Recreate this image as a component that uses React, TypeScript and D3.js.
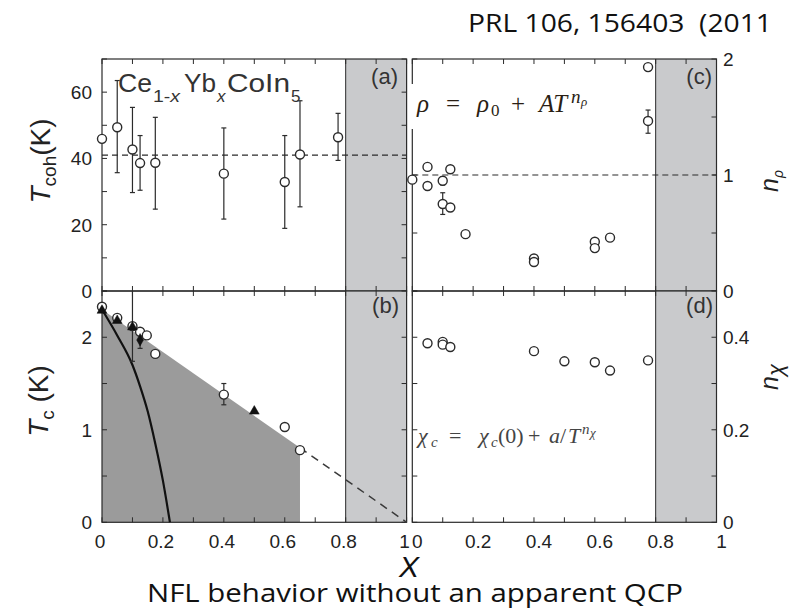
import React from 'react';
import * as d3 from 'd3';

// ---------- data ----------
// panel (a): coherence temperature
const tcohX = [0, 0.05, 0.1, 0.125, 0.175, 0.4, 0.6, 0.65, 0.775];
const tcohY = [45.9, 49.4, 42.7, 38.6, 38.7, 35.4, 32.9, 41.2, 46.4];
const tcohLo = [45.9, 35.7, 29.7, 30.4, 24.7, 21.7, 18.9, 25.4, 39.4];
const tcohHi = [45.9, 63.5, 55.4, 46.9, 52.4, 49.2, 46.9, 57.4, 53.6];
const tcohRef = 41;

// panel (b): Tc
const tcCircX = [0, 0.05, 0.1, 0.125, 0.147, 0.175, 0.4, 0.6, 0.65];
const tcCircY = [2.33, 2.21, 2.12, 2.06, 2.02, 1.82, 1.38, 1.03, 0.78];
const tcCircLo = [2.33, 2.21, 2.12, 2.06, 2.02, 1.82, 1.27, 1.03, 0.78];
const tcCircHi = [2.33, 2.21, 2.12, 2.06, 2.02, 1.82, 1.5, 1.03, 0.78];
const tcTriX = [0, 0.05, 0.1, 0.5];
const tcTriY = [2.29, 2.18, 2.11, 1.2];
const tcTriLo = [2.29, 2.18, 1.74, 1.2];
const tcTriHi = [2.29, 2.18, 2.5, 1.2];
const tcDiaX = [0.125];
const tcDiaY = [1.97];
const tcDiaLo = [1.88];
const tcDiaHi = [2.04];
const boundaryX = [0, 0.65, 1];
const boundaryY = [2.3, 0.805, 0];
const curveX = [0, 0.05, 0.1, 0.125, 0.15, 0.175, 0.2, 0.223];
const curveY = [2.3, 2.02, 1.7, 1.47, 1.2, 0.85, 0.45, 0];

// panel (c): resistivity exponent
const nRhoX = [0, 0.05, 0.05, 0.1, 0.1, 0.125, 0.125, 0.175, 0.4, 0.4, 0.6, 0.6, 0.65, 0.775, 0.775];
const nRhoY = [0.96, 1.07, 0.905, 0.95, 0.75, 1.05, 0.72, 0.49, 0.28, 0.25, 0.425, 0.37, 0.46, 1.93, 1.466];
const nRhoLo = [0.96, 1.07, 0.905, 0.915, 0.66, 1.02, 0.72, 0.49, 0.28, 0.25, 0.425, 0.37, 0.43, 1.93, 1.36];
const nRhoHi = [0.96, 1.07, 0.905, 0.985, 0.847, 1.08, 0.72, 0.49, 0.28, 0.25, 0.425, 0.37, 0.49, 1.93, 1.56];
const nRhoRef = 1;

// panel (d): susceptibility exponent
const nChiX = [0.05, 0.1, 0.1, 0.125, 0.4, 0.5, 0.6, 0.65, 0.775];
const nChiY = [0.387, 0.39, 0.384, 0.379, 0.37, 0.348, 0.346, 0.328, 0.35];

// shaded region & ticks
const shadeFrom = 0.8;
const xTickLabels = ['0', '0.2', '0.4', '0.6', '0.8', '1'];
const xTickVals = [0, 0.2, 0.4, 0.6, 0.8, 1];
const aTickVals = [0, 20, 40, 60];
const bTickVals = [0, 1, 2];
const cTickVals = [0, 1, 2];
const dTickVals = [0, 0.2, 0.4];
const dTickLabels = ['0', '0.2', '0.4'];

// ---------- layout ----------
const xL = d3.scaleLinear().domain([0, 1]).range([102, 406.6]);
const xR = d3.scaleLinear().domain([0, 1]).range([412.3, 716.5]);
const yA = d3.scaleLinear().domain([0, 70]).range([291, 59]);
const yB = d3.scaleLinear().domain([0, 2.5]).range([522.3, 291]);
const yC = d3.scaleLinear().domain([0, 2]).range([291, 59]);
const yD = d3.scaleLinear().domain([0, 0.5]).range([522.3, 291]);

const SANS = '"Liberation Sans", Arial, Helvetica, sans-serif';
const SERIF = '"Liberation Serif", "DejaVu Serif", serif';
const CAL = '"Open Sans", "Noto Sans", sans-serif';
const INK = '#2b2b2b';
const SHADE = '#c9cacc';
const DARK = '#9b9b9b';
const TICK = 5;

type Sx = d3.ScaleLinear<number, number>;

function Frame({ x, y, nY }: { x: Sx; y: Sx; nY: number }) {
  const [x0, x1] = x.range();
  const [yb, yt] = y.range();
  const xt = x.ticks(10);
  const yt2 = y.ticks(nY);
  return (
    <g>
      <rect x={x(shadeFrom)} y={yt} width={x1 - x(shadeFrom)} height={yb - yt} fill={SHADE} />
      <line x1={x(shadeFrom)} x2={x(shadeFrom)} y1={yt} y2={yb} stroke={INK} strokeWidth={1} />
      {xt.map((t, i) => (
        <g key={'x' + i}>
          <line x1={x(t)} x2={x(t)} y1={yt} y2={yt + TICK} stroke={INK} strokeWidth={1} />
          <line x1={x(t)} x2={x(t)} y1={yb} y2={yb - TICK} stroke={INK} strokeWidth={1} />
        </g>
      ))}
      {yt2.map((t, i) => (
        <g key={'y' + i}>
          <line x1={x0} x2={x0 + TICK} y1={y(t)} y2={y(t)} stroke={INK} strokeWidth={1} />
          <line x1={x1} x2={x1 - TICK} y1={y(t)} y2={y(t)} stroke={INK} strokeWidth={1} />
        </g>
      ))}
      <rect x={x0} y={yt} width={x1 - x0} height={yb - yt} fill="none" stroke={INK} strokeWidth={1.2} />
    </g>
  );
}

function Circles({ x, y, xs, ys, lo, hi }: { x: Sx; y: Sx; xs: number[]; ys: number[]; lo?: number[]; hi?: number[] }) {
  return (
    <g>
      {xs.map((v, i) => (
        <g key={i}>
          {lo && hi && hi[i] - lo[i] > 0 && (
            <g stroke={INK} strokeWidth={1.2}>
              <line x1={x(v)} x2={x(v)} y1={y(lo[i])} y2={y(hi[i])} />
              <line x1={x(v) - 2.5} x2={x(v) + 2.5} y1={y(lo[i])} y2={y(lo[i])} />
              <line x1={x(v) - 2.5} x2={x(v) + 2.5} y1={y(hi[i])} y2={y(hi[i])} />
            </g>
          )}
          <circle cx={x(v)} cy={y(ys[i])} r={4.5} fill="white" stroke={INK} strokeWidth={1.4} />
        </g>
      ))}
    </g>
  );
}

function Filled({ x, y, xs, ys, lo, hi, type, size }: { x: Sx; y: Sx; xs: number[]; ys: number[]; lo: number[]; hi: number[]; type: d3.SymbolType; size: number }) {
  const sym = d3.symbol().type(type).size(size)();
  return (
    <g>
      {xs.map((v, i) => (
        <g key={i}>
          {hi[i] - lo[i] > 0 && (
            <g stroke={INK} strokeWidth={1.2}>
              <line x1={x(v)} x2={x(v)} y1={y(lo[i])} y2={y(hi[i])} />
              <line x1={x(v) - 2.5} x2={x(v) + 2.5} y1={y(lo[i])} y2={y(lo[i])} />
            </g>
          )}
          <path d={sym || ''} transform={`translate(${x(v)},${y(ys[i])})`} fill="#111" stroke="#111" strokeWidth={0.5} />
        </g>
      ))}
    </g>
  );
}

export default function App() {
  const boundary = boundaryX.map((v, i) => [v, boundaryY[i]] as [number, number]);
  const areaPts: [number, number][] = [[0, 0], boundary[0], boundary[1], [boundary[1][0], 0]];
  const polyLine = d3.line<[number, number]>().x((d) => xL(d[0])).y((d) => yB(d[1]));
  const curvePts = curveX.map((v, i) => [v, curveY[i]] as [number, number]);
  const curveLine = d3
    .line<[number, number]>()
    .x((d) => xL(d[0]))
    .y((d) => yB(d[1]))
    .curve(d3.curveMonotoneX);

  const mathIt = { fontFamily: SERIF, fontStyle: 'italic' as const };

  return (
    <svg width={805} height={613} style={{ position: 'absolute', left: 0, top: 0, background: 'white' }}>
      {/* title */}
      <text x={468} y={32} fontFamily={CAL} fontSize={26} fill="#111" textLength={304} lengthAdjust="spacingAndGlyphs" style={{ whiteSpace: 'pre' }}>
        PRL 106, 156403  (2011
      </text>

      {/* ---------- panel (a) ---------- */}
      <Frame x={xL} y={yA} nY={7} />
      <line x1={xL(0)} x2={xL(1)} y1={yA(tcohRef)} y2={yA(tcohRef)} stroke={INK} strokeWidth={1.2} strokeDasharray="6,4" />
      <Circles x={xL} y={yA} xs={tcohX} ys={tcohY} lo={tcohLo} hi={tcohHi} />
      <g fontFamily={SANS} fill="#333">
        <text x={118} y={92} fontSize={25} textLength={34} lengthAdjust="spacingAndGlyphs">Ce</text>
        <text x={153} y={102} fontSize={17} textLength={27} lengthAdjust="spacingAndGlyphs">
          1-<tspan fontStyle="italic">x</tspan>
        </text>
        <text x={184} y={92} fontSize={25} textLength={32} lengthAdjust="spacingAndGlyphs">Yb</text>
        <text x={217} y={102} fontSize={17} fontStyle="italic">x</text>
        <text x={227} y={92} fontSize={25} textLength={63} lengthAdjust="spacingAndGlyphs">CoIn</text>
        <text x={291} y={102} fontSize={17}>5</text>
      </g>
      <text x={398} y={84} textAnchor="end" fontFamily={SANS} fontSize={22} fill="#333">(a)</text>

      {/* ---------- panel (b) ---------- */}
      <g>
        <rect x={xL(shadeFrom)} y={291} width={xL(1) - xL(shadeFrom)} height={yB(0) - 291} fill={SHADE} />
        <path d={polyLine(areaPts) || ''} fill={DARK} />
      </g>
      <Frame x={xL} y={yB} nY={5} />
      <path d={polyLine([boundary[1], boundary[2]]) || ''} fill="none" stroke="#3a3a3a" strokeWidth={1.5} strokeDasharray="8,6" />
      <path d={curveLine(curvePts) || ''} fill="none" stroke="#111" strokeWidth={2.2} />
      <Circles x={xL} y={yB} xs={tcCircX} ys={tcCircY} lo={tcCircLo} hi={tcCircHi} />
      <Filled x={xL} y={yB} xs={tcTriX} ys={tcTriY} lo={tcTriLo} hi={tcTriHi} type={d3.symbolTriangle} size={42} />
      <Filled x={xL} y={yB} xs={tcDiaX} ys={tcDiaY} lo={tcDiaLo} hi={tcDiaHi} type={d3.symbolDiamond} size={40} />
      <text x={399} y={313} textAnchor="end" fontFamily={SANS} fontSize={22} fill="#333">(b)</text>

      {/* ---------- panel (c) ---------- */}
      <Frame x={xR} y={yC} nY={4} />
      <rect x={409} y={84} width={200} height={45} fill="white" />
      <line x1={xR(0)} x2={xR(1)} y1={yC(nRhoRef)} y2={yC(nRhoRef)} stroke={INK} strokeWidth={1.2} strokeDasharray="6,4" />
      <Circles x={xR} y={yC} xs={nRhoX} ys={nRhoY} lo={nRhoLo} hi={nRhoHi} />
      <g fill="#2a1e14" fontFamily={SERIF} fontSize={25}>
        <text x={417} y={112} {...mathIt}>ρ</text>
        <text x={446} y={112}>=</text>
        <text x={477} y={112} {...mathIt}>ρ</text>
        <text x={491} y={116} fontSize={17}>0</text>
        <text x={511} y={112}>+</text>
        <text x={539} y={112} {...mathIt}>AT</text>
        <text x={571} y={103} fontSize={19} {...mathIt}>n</text>
        <text x={581} y={106} fontSize={13} {...mathIt}>ρ</text>
      </g>
      <text x={712} y={84} textAnchor="end" fontFamily={SANS} fontSize={22} fill="#333">(c)</text>

      {/* ---------- panel (d) ---------- */}
      <Frame x={xR} y={yD} nY={5} />
      <Circles x={xR} y={yD} xs={nChiX} ys={nChiY} />
      <g fill="#444" fontFamily={SERIF} fontSize={22}>
        <text x={418} y={443} {...mathIt}>χ</text>
        <text x={431} y={447} fontSize={15} {...mathIt}>c</text>
        <text x={449} y={443}>=</text>
        <text x={479} y={443} {...mathIt}>χ</text>
        <text x={491} y={447} fontSize={15} {...mathIt}>c</text>
        <text x={498} y={443}>(0)</text>
        <text x={528} y={443}>+</text>
        <text x={549} y={443} {...mathIt}>a</text>
        <text x={560} y={443}>/</text>
        <text x={568} y={443} {...mathIt}>T</text>
        <text x={582} y={434} fontSize={15} {...mathIt}>n</text>
        <text x={590} y={437} fontSize={13} {...mathIt}>χ</text>
      </g>
      <text x={713} y={313} textAnchor="end" fontFamily={SANS} fontSize={22} fill="#333">(d)</text>

      {/* ---------- tick labels ---------- */}
      <g fontFamily={SANS} fontSize={19} fill="#222">
        {aTickVals.map((t) => (
          <text key={'a' + t} x={92} y={yA(t)} dy="0.36em" textAnchor="end">{t}</text>
        ))}
        {bTickVals.map((t) => (
          <text key={'b' + t} x={92} y={yB(t)} dy="0.36em" textAnchor="end">{t}</text>
        ))}
        {cTickVals.map((t) => (
          <text key={'c' + t} x={723} y={yC(t)} dy="0.36em">{t}</text>
        ))}
        {dTickVals.slice(1).map((t, i) => (
          <text key={'d' + t} x={723} y={yD(t)} dy="0.36em">{dTickLabels[i + 1]}</text>
        ))}
        <text x={723} y={yD(0)} dy="0.36em">0</text>
        {xTickVals.map((t, i) => (
          <text key={'xl' + t} x={xL(t) - 2} y={548} textAnchor="middle">{xTickLabels[i]}</text>
        ))}
        {xTickVals.map((t, i) => (
          <text key={'xr' + t} x={xR(t) + 5} y={548} textAnchor="middle">{xTickLabels[i]}</text>
        ))}
      </g>

      {/* ---------- axis titles ---------- */}
      <text transform="translate(50,161) rotate(-90)" textAnchor="middle" fontFamily={SANS} fontSize={28} fill="#222">
        <tspan fontStyle="italic">T</tspan>
        <tspan fontSize={19} dy={6}>coh</tspan>
        <tspan dy={-6}>(K)</tspan>
      </text>
      <text transform="translate(48,401) rotate(-90)" textAnchor="middle" fontFamily={SANS} fontSize={28} fill="#222">
        <tspan fontStyle="italic">T</tspan>
        <tspan fontSize={19} dy={6}>c</tspan>
        <tspan dy={-6}> (K)</tspan>
      </text>
      <text transform="translate(778,181) rotate(-90)" textAnchor="middle" fontFamily={SANS} fontSize={25} fill="#222">
        <tspan fontStyle="italic">n</tspan>
        <tspan fontSize={14} dy={5} fontStyle="italic">ρ</tspan>
      </text>
      <text transform="translate(778,377) rotate(-90)" textAnchor="middle" fontFamily={SANS} fontSize={25} fill="#222">
        <tspan fontStyle="italic">n</tspan>
        <tspan fontSize={22} dy={5} fontStyle="italic">χ</tspan>
      </text>
      <text x={409} y={577} textAnchor="middle" fontFamily={SANS} fontSize={30} fontStyle="italic" fill="#111">X</text>

      {/* caption */}
      <text x={147} y={602} fontFamily={CAL} fontSize={26} fill="#111" textLength={536} lengthAdjust="spacingAndGlyphs">
        NFL behavior without an apparent QCP
      </text>
    </svg>
  );
}
